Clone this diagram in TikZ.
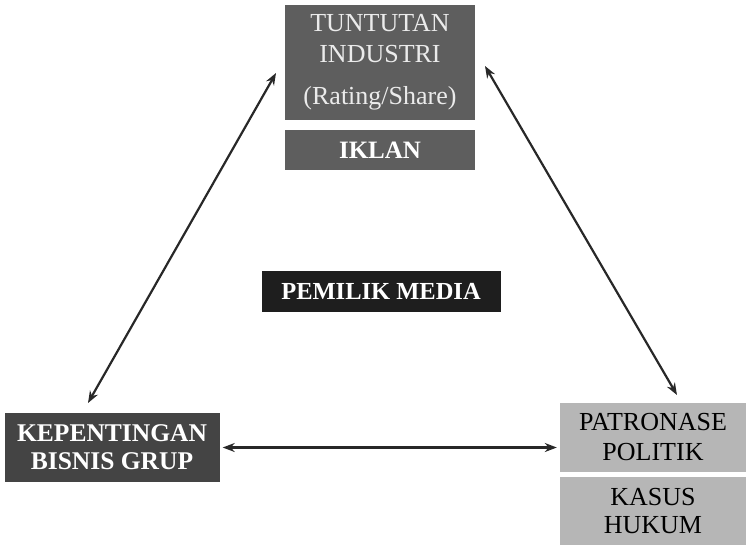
\documentclass[tikz,border=0pt]{standalone}
\usepackage{fontspec}
\setmainfont{Liberation Serif}
\usetikzlibrary{arrows.meta, positioning}
\usepackage{xcolor}
\definecolor{boxmid}{RGB}{94,94,94}
\definecolor{boxdark}{RGB}{68,68,68}
\definecolor{boxblack}{RGB}{30,30,30}
\definecolor{boxlight}{RGB}{182,182,182}
\definecolor{arrowgray}{RGB}{40,40,40}
\tikzset{
  mediabox/.style={minimum width=#1, inner sep=2pt, align=center,
    font=\fontsize{26}{30}\selectfont},
  boldbox/.style={font=\fontsize{25}{28}\selectfont\bfseries},
  link/.style={arrowgray, line width=2.2pt,
    {Stealth[length=12pt,width=9pt]}-{Stealth[length=12pt,width=9pt]}}
}

\begin{document}
\begin{tikzpicture}[x=1pt, y=-1pt]
\useasboundingbox (0,0) rectangle (749,547);
\node[mediabox=190pt, fill=boxmid, text=white!92!black, minimum height=115pt, font=\fontsize{26}{31}\selectfont] (tuntutan) at (380,62.5)
  {TUNTUTAN\\INDUSTRI\\[11pt](Rating/Share)};
\node[mediabox=190pt, fill=boxmid, text=white, minimum height=40pt, boldbox] (iklan) at (380,150) {IKLAN};
\node[mediabox=239pt, fill=boxblack, text=white, minimum height=41pt, font=\fontsize{24.5}{28}\selectfont\bfseries] (pemilik) at (381,291) {PEMILIK MEDIA};
\node[mediabox=215pt, fill=boxdark, text=white, minimum height=69pt, font=\fontsize{25.5}{28}\selectfont\bfseries] (bisnis) at (112,447.5) {KEPENTINGAN\\BISNIS GRUP};
\node[mediabox=186pt, fill=boxlight, text=black, minimum height=69pt] (patronase) at (653,437.5) {PATRONASE\\POLITIK};
\node[mediabox=186pt, fill=boxlight, text=black, minimum height=68pt, font=\fontsize{26}{28}\selectfont] (kasus) at (653,511) {KASUS\\HUKUM};
% ujung panah
\coordinate (bisnistop) at (88,403);
\coordinate (tuntutanleft) at (276,73);
\coordinate (tuntutanright) at (485,66);
\coordinate (patronasetop) at (677,395);
\draw[link] (bisnistop) -- (tuntutanleft);
\draw[link] (tuntutanright) -- (patronasetop);
\draw[link] ([xshift=3pt]bisnis.east) -- ([xshift=-3pt]bisnis.east -| patronase.west);
\end{tikzpicture}
\end{document}
